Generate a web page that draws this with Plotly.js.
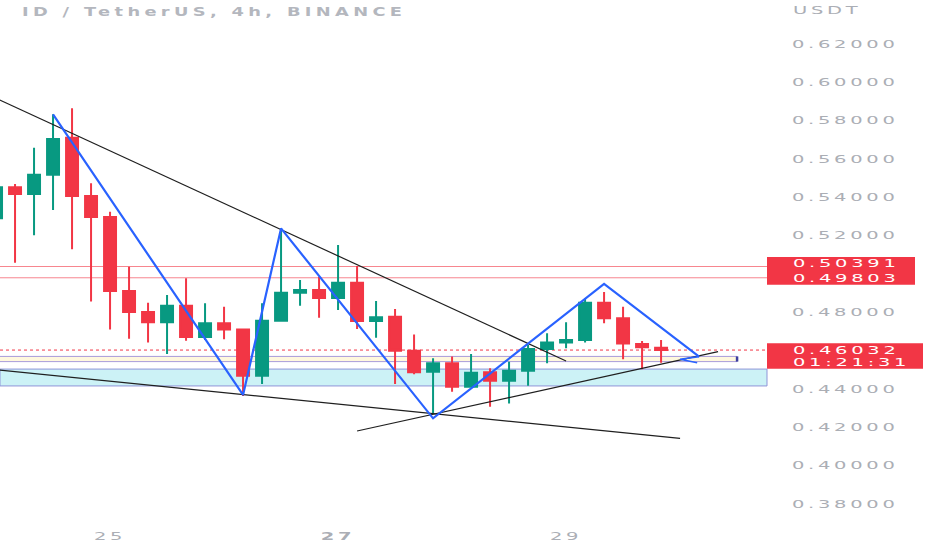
<!DOCTYPE html>
<html><head><meta charset="utf-8">
<script src="https://cdn.plot.ly/plotly-3.0.1.min.js"></script>
<style>
html,body{margin:0;padding:0;background:#fff;}
#chart{width:932px;height:550px;}
</style></head><body><div id="chart"></div>
<script>
// ---- candle data (4h) ----
const times = [
 '2023-03-24 00:00','2023-03-24 04:00','2023-03-24 08:00','2023-03-24 12:00','2023-03-24 16:00','2023-03-24 20:00',
 '2023-03-25 00:00','2023-03-25 04:00','2023-03-25 08:00','2023-03-25 12:00','2023-03-25 16:00','2023-03-25 20:00',
 '2023-03-26 00:00','2023-03-26 04:00','2023-03-26 08:00','2023-03-26 12:00','2023-03-26 16:00','2023-03-26 20:00',
 '2023-03-27 00:00','2023-03-27 04:00','2023-03-27 08:00','2023-03-27 12:00','2023-03-27 16:00','2023-03-27 20:00',
 '2023-03-28 00:00','2023-03-28 04:00','2023-03-28 08:00','2023-03-28 12:00','2023-03-28 16:00','2023-03-28 20:00',
 '2023-03-29 00:00','2023-03-29 04:00','2023-03-29 08:00','2023-03-29 12:00','2023-03-29 16:00','2023-03-29 20:00'];
const opens = [0.5291,0.5452,0.5417,0.5518,0.5711,0.5407, 0.5297,0.4911,0.4802,0.4748,0.4835,0.4671,
 0.4743,0.4711,0.4469,0.4756,0.4902,0.4917, 0.4875,0.4955,0.4755,0.4777,0.4600,0.4490,
 0.4534,0.4412,0.4487,0.4443,0.4495,0.4609, 0.4642,0.4656,0.4850,0.4769,0.4635,0.4615];
const highs = [0.5465,0.5470,0.5659,0.5833,0.5865,0.5473, 0.5325,0.5038,0.4850,0.4890,0.4978,0.4847,
 0.4829,0.4715,0.4847,0.5238,0.4969,0.4986, 0.5151,0.5042,0.4859,0.4817,0.4685,0.4560,
 0.4569,0.4583,0.4508,0.4542,0.4630,0.4691, 0.4748,0.4873,0.4906,0.4829,0.4650,0.4656];
const lows = [0.5270,0.5059,0.5202,0.5334,0.5129,0.4856, 0.4711,0.4662,0.4642,0.4583,0.4652,0.4656,
 0.4659,0.4363,0.4426,0.4752,0.4835,0.4772, 0.4812,0.4713,0.4668,0.4426,0.4477,0.4273,
 0.4386,0.4408,0.4308,0.4325,0.4417,0.4534, 0.4612,0.4642,0.4743,0.4555,0.4503,0.4537];
const closes = [0.5452,0.5417,0.5518,0.5704,0.5407,0.5297, 0.4911,0.4802,0.4748,0.4835,0.4671,0.4743,
 0.4711,0.4469,0.4756,0.4902,0.4917,0.4875, 0.4955,0.4755,0.4774,0.4600,0.4487,0.4534,
 0.4412,0.4485,0.4443,0.4495,0.4609,0.4642, 0.4656,0.4850,0.4769,0.4638,0.4618,0.46032];

// ---- axis ticks (0.46 and 0.50 are hidden behind the price labels) ----
const yTicks = [0.38,0.40,0.42,0.44,0.48,0.52,0.54,0.56,0.58,0.60,0.62];
const xTickVals = ['2023-03-25 00:00','2023-03-27 00:00','2023-03-29 00:00'];
const xTickText = ['25','<b>27</b>','29'];

// ---- drawings (time, price) ----
const upperTrendT = ['2023-03-24 00:00','2023-03-29 00:00'];
const upperTrendV = [0.5917,0.4546];
const lowerTrendT = ['2023-03-24 00:00','2023-03-30 00:00'];
const lowerTrendV = [0.4501,0.4142];
const riseTrendT = ['2023-03-27 04:00','2023-03-30 08:00'];
const riseTrendV = [0.4181,0.4595];
const zigT = ['2023-03-24 12:00','2023-03-26 04:00','2023-03-26 12:00','2023-03-27 20:00','2023-03-29 08:00','2023-03-30 04:00'];
const zigV = [0.5833,0.4369,0.5238,0.4247,0.4948,0.4569];
const arrowT = ['2023-03-30 04:00','2023-03-30 00:00','2023-03-30 03:36'];
const arrowV = [0.4569,0.4555,0.4537];

const levelLines = [0.50391,0.49803];
const lastPrice = 0.46032;
const countdown = '01:21:31';
const zoneCyan = [0.4416,0.4504];
const zoneThin = [0.4543,0.4570];
const zoneThinEnd = '2023-03-30 12:00';

const FONT = 'DejaVu Sans';
const GRAY = '#abaeb5';
const RED = '#f23645', GREEN = '#089981';

const traces = [
 {type:'candlestick', x:times, open:opens, high:highs, low:lows, close:closes,
  increasing:{line:{color:GREEN,width:2}, fillcolor:GREEN},
  decreasing:{line:{color:RED,width:2}, fillcolor:RED},
  whiskerwidth:0, hoverinfo:'skip', showlegend:false},
 {type:'scatter', mode:'lines', x:upperTrendT, y:upperTrendV, line:{color:'#1f1f1f',width:1.2}, hoverinfo:'skip', showlegend:false},
 {type:'scatter', mode:'lines', x:lowerTrendT, y:lowerTrendV, line:{color:'#1f1f1f',width:1.2}, hoverinfo:'skip', showlegend:false},
 {type:'scatter', mode:'lines', x:riseTrendT, y:riseTrendV, line:{color:'#1f1f1f',width:1.2}, hoverinfo:'skip', showlegend:false},
 {type:'scatter', mode:'lines', x:zigT, y:zigV, line:{color:'#2962ff',width:2.2}, hoverinfo:'skip', showlegend:false},
 {type:'scatter', mode:'lines', x:arrowT, y:arrowV, line:{color:'#2962ff',width:1.6}, hoverinfo:'skip', showlegend:false}
];

const shapes = [
 {type:'rect', xref:'paper', yref:'y', x0:0, x1:1, y0:zoneCyan[0], y1:zoneCyan[1], layer:'below',
  fillcolor:'rgba(0,188,212,0.2)', line:{color:'#8f95d8',width:1}},
 {type:'rect', xref:'x', yref:'y', x0:'2023-03-23 12:00', x1:zoneThinEnd, y0:zoneThin[0], y1:zoneThin[1], layer:'below',
  fillcolor:'rgba(255,236,160,0.35)', line:{color:'#a99cd9',width:1}},
 {type:'line', xref:'x', yref:'y', x0:zoneThinEnd, x1:zoneThinEnd, y0:zoneThin[0], y1:zoneThin[1], layer:'below',
  line:{color:'#3d3f9e',width:2.5}},
 ...levelLines.map(v => ({type:'line', xref:'paper', yref:'y', x0:0, x1:1, y0:v, y1:v, layer:'below',
  line:{color:'rgba(242,54,69,0.6)',width:1}})),
 {type:'line', xref:'paper', yref:'y', x0:0, x1:1, y0:lastPrice, y1:lastPrice, layer:'below',
  line:{color:RED,width:1,dash:'dot'}},
 {type:'rect', xref:'paper', yref:'y', x0:1, x1:1+148/767, y0:levelLines[1]-0.0037, y1:levelLines[0]+0.0050, layer:'above',
  fillcolor:RED, line:{width:0}},
 {type:'rect', xref:'paper', yref:'y', x0:1, x1:1+156/767, y0:lastPrice-0.0097, y1:lastPrice+0.0035, layer:'above',
  fillcolor:RED, line:{width:0}}
];

const labFont = {family:FONT, size:10, color:'#ffffff'};
const annotations = [
 {xref:'paper', yref:'paper', x:1, xanchor:'left', xshift:24, y:1-10.5/522, yanchor:'middle', showarrow:false,
  text:'USDT', font:{family:FONT, size:10, color:GRAY}},
 {xref:'paper', yref:'y', x:1, xanchor:'left', xshift:24, y:levelLines[0], yshift:3, yanchor:'middle', showarrow:false,
  text:levelLines[0].toFixed(5), font:labFont},
 {xref:'paper', yref:'y', x:1, xanchor:'left', xshift:24, y:levelLines[1], yshift:-1, yanchor:'middle', showarrow:false,
  text:levelLines[1].toFixed(5), font:labFont},
 {xref:'paper', yref:'y', x:1, xanchor:'left', xshift:24, y:lastPrice, yshift:0, yanchor:'middle', showarrow:false,
  text:lastPrice.toFixed(5), font:labFont},
 {xref:'paper', yref:'y', x:1, xanchor:'left', xshift:24, y:lastPrice, yshift:-12, yanchor:'middle', showarrow:false,
  text:countdown, font:labFont}
];

const layout = {
 width:932, height:550,
 margin:{l:0, r:165, t:0, b:28, pad:0},
 paper_bgcolor:'#ffffff', plot_bgcolor:'#ffffff',
 boxgap:0.37, boxgroupgap:0,
 showlegend:false,
 title:{text:'ID / TetherUS, 4h, BINANCE', xref:'container', yref:'container', x:22/932, xanchor:'left',
  y:1-12/550, yanchor:'middle', font:{family:FONT, size:11.5, color:'#b4b7be', weight:'bold'}},
 xaxis:{type:'date', range:['2023-03-24 00:50','2023-03-30 18:18'], rangeslider:{visible:false},
  showgrid:false, zeroline:false, showline:false, ticks:'', tickvals:xTickVals, ticktext:xTickText,
  tickfont:{family:FONT, size:10, color:GRAY}, ticklabelstandoff:7, fixedrange:true},
 yaxis:{side:'right', range:[0.37061,0.64296], showgrid:false, zeroline:false, showline:false, ticks:'',
  tickvals:yTicks, tickformat:'.5f', tickfont:{family:FONT, size:10, color:GRAY}, ticklabelstandoff:24, fixedrange:true},
 shapes:shapes, annotations:annotations, hovermode:false
};

// TradingView's (horizontally stretched) label look: wide tracking + wide glyphs
function widen(t, ls, k, leftAlign){
 let x = parseFloat(t.getAttribute('x') || '0');
 if (leftAlign && t.getAttribute('text-anchor') === 'middle'){
   const w0 = t.getComputedTextLength();
   x = x - w0/2;
   t.setAttribute('x', x.toFixed(2));
   t.setAttribute('text-anchor','start');
 }
 t.style.letterSpacing = ls + 'px';
 const tr = t.getAttribute('transform') || '';
 t.setAttribute('transform', (tr + ' translate(' + x + ',0) scale(' + k + ',1) translate(' + (-x) + ',0)').trim());
}
function stretchText(gd){
 gd.querySelectorAll('.ytick text').forEach(t => widen(t, 1.9, 1.95, false));
 gd.querySelectorAll('.xtick text').forEach(t => widen(t, 1.9, 1.95, false));
 gd.querySelectorAll('.annotation-text').forEach(t => widen(t, 1.9, 1.95, true));
 gd.querySelectorAll('.gtitle').forEach(t => widen(t, 2.8, 1.55, false));
}

Plotly.newPlot('chart', traces, layout, {displayModeBar:false, staticPlot:true}).then(stretchText);
</script>
</body></html>
